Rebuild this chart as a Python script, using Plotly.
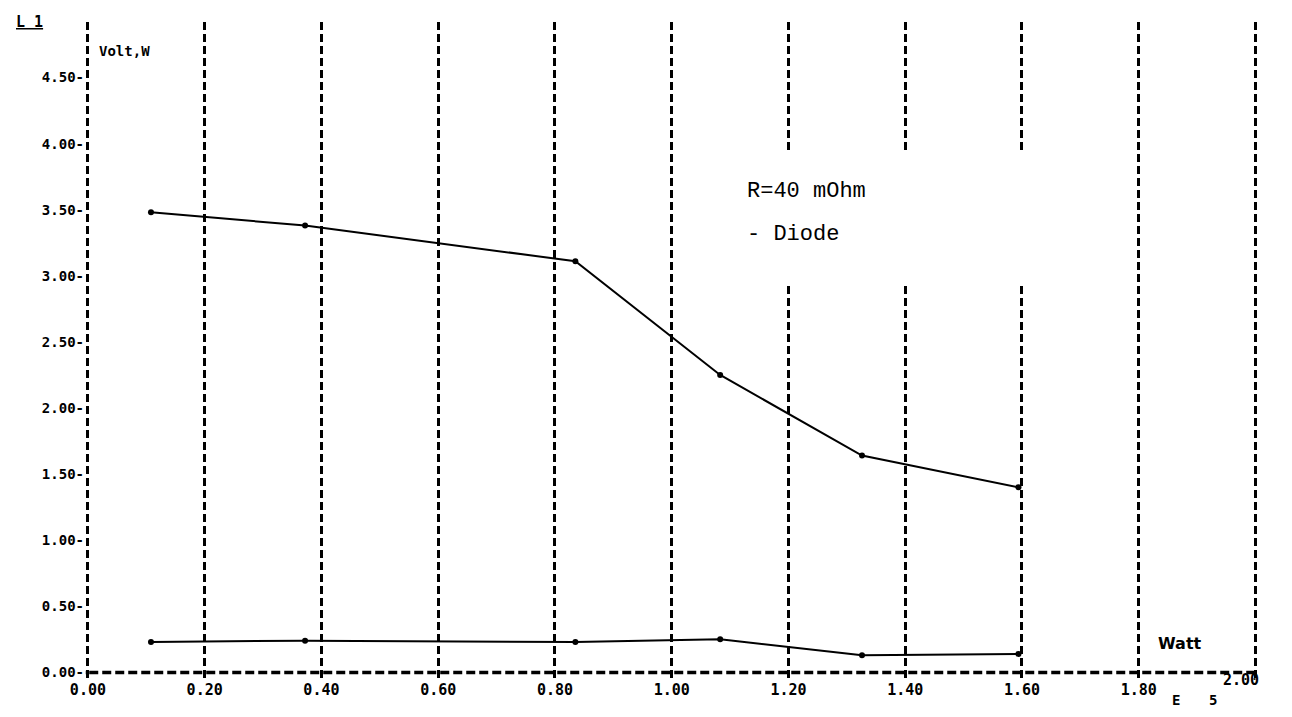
import plotly.graph_objects as go

# ---- data ----
power_w = [0.108, 0.372, 0.835, 1.083, 1.326, 1.594]
volt_upper = [3.48, 3.38, 3.11, 2.25, 1.64, 1.40]
volt_lower = [0.23, 0.24, 0.23, 0.25, 0.13, 0.14]

x_ticks = [0.0, 0.2, 0.4, 0.6, 0.8, 1.0, 1.2, 1.4, 1.6, 1.8, 2.0]
x_tick_labels = ["0.00", "0.20", "0.40", "0.60", "0.80", "1.00",
                 "1.20", "1.40", "1.60", "1.80", "2.00"]
y_ticks = [0.0, 0.5, 1.0, 1.5, 2.0, 2.5, 3.0, 3.5, 4.0, 4.5]
y_tick_labels = ["0.00", "0.50", "1.00", "1.50", "2.00", "2.50",
                 "3.00", "3.50", "4.00", "4.50"]

MONO = "DejaVu Sans Mono"
TYPE = "Liberation Mono"

fig = go.Figure()
for yv in (volt_upper, volt_lower):
    fig.add_trace(go.Scatter(
        x=power_w, y=yv, mode="lines+markers",
        line=dict(color="black", width=2),
        marker=dict(color="black", size=6),
        showlegend=False, cliponaxis=False,
    ))

shapes = [
    # dashed horizontal axis line at y = 0
    dict(type="line", xref="x", yref="y", x0=-0.02, x1=x_ticks[-1], y0=0, y1=0,
         line=dict(color="black", width=3.5, dash="9px,4px"), layer="above"),
    # blank gap in the vertical grid behind the annotation text
    dict(type="rect", xref="x", yref="y", x0=1.1, x1=1.7, y0=2.93, y1=3.95,
         fillcolor="white", line=dict(width=0), layer="between"),
]

annotations = [
    dict(text="R=40 mOhm", x=1.126, y=3.64, xref="x", yref="y", xanchor="left",
         yanchor="middle", showarrow=False, font=dict(family=TYPE, size=22, color="black")),
    dict(text="- Diode", x=1.126, y=3.31, xref="x", yref="y", xanchor="left",
         yanchor="middle", showarrow=False, font=dict(family=TYPE, size=22, color="black")),
    dict(text="<b>Watt</b>", x=1.87, y=0.22, xref="x", yref="y", xanchor="center",
         yanchor="middle", showarrow=False, font=dict(family="DejaVu Sans", size=16, color="black")),
    dict(text="<b>Volt,W</b>", x=0.015, y=4.70, xref="x", yref="y", xanchor="left",
         yanchor="middle", showarrow=False, font=dict(family=MONO, size=14, color="black")),
    dict(text="<b><u>L 1</u></b>", x=-0.06, y=1.0, xref="paper", yref="paper", xanchor="left",
         yanchor="middle", showarrow=False, font=dict(family=MONO, size=15, color="black")),
    dict(text="<b>E</b>", x=1.863, y=-0.032, xref="x", yref="paper", xanchor="center",
         yanchor="middle", showarrow=False, font=dict(family=MONO, size=14, color="black")),
    dict(text="<b>5</b>", x=1.927, y=-0.032, xref="x", yref="paper", xanchor="center",
         yanchor="middle", showarrow=False, font=dict(family=MONO, size=14, color="black")),
    dict(text="<b>" + x_tick_labels[-1] + "</b>", x=x_ticks[-1] - 0.025, y=-0.001,
         xref="x", yref="paper", xanchor="center", yanchor="middle", showarrow=False,
         font=dict(family=MONO, size=15, color="black")),
]

fig.update_layout(
    width=1292, height=717,
    margin=dict(l=85, r=19, t=22, b=38),
    paper_bgcolor="white", plot_bgcolor="white",
    shapes=shapes, annotations=annotations,
    xaxis=dict(
        range=[-0.005, 2.03],
        tickvals=x_ticks,
        ticktext=["<b>" + t + "</b>" for t in x_tick_labels[:-1]] + [""],
        showgrid=True, gridcolor="black", gridwidth=2.5, griddash="8px,4px",
        zeroline=False, showline=False, ticks="",
        tickfont=dict(family=MONO, size=15, color="black"),
    ),
    yaxis=dict(
        range=[-0.05, 4.92],
        tickvals=y_ticks,
        ticktext=["<b>" + t + "-</b>" for t in y_tick_labels],
        showgrid=False, zeroline=False, showline=False, ticks="",
        ticklabelstandoff=0,
        tickfont=dict(family=MONO, size=14, color="black"),
    ),
)

fig.write_html("out.html")
